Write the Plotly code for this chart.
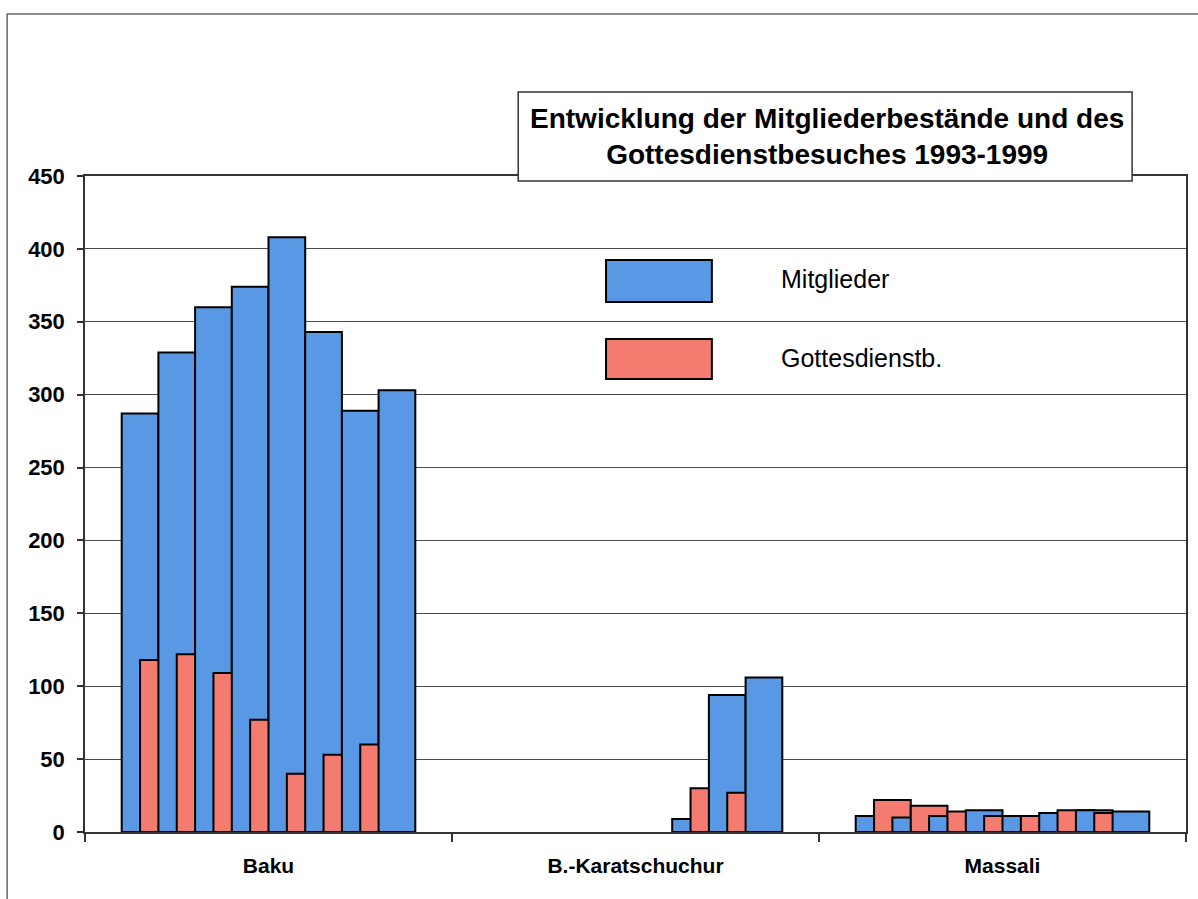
import plotly.graph_objects as go

# ---------------- data ----------------
categories = ["Baku", "B.-Karatschuchur", "Massali"]
years = ["1", "2", "3", "4", "5", "6", "7", "8"]

mitglieder_baku = [287, 329, 360, 374, 408, 343, 289, 303]
mitglieder_karat = [None, None, None, None, None, 9, 94, 106]
mitglieder_massali = [11, 10, 11, 15, 11, 13, 15, 14]

gottesdienst_baku = [118, 122, 109, 77, 40, 53, 60]
gottesdienst_karat = [None, None, None, None, None, 30, 27]
gottesdienst_massali = [22, 18, 14, 11, 11, 15, 13]

y_ticks = [0, 50, 100, 150, 200, 250, 300, 350, 400, 450]

title_text = "Entwicklung der Mitgliederbestände und des<br>Gottesdienstbesuches 1993-1999"
legend_names = ["Mitglieder", "Gottesdienstb."]

# ---------------- style ----------------
BLUE = "#5898E5"
RED = "#F47B70"
FONT = "Liberation Sans, Arial, sans-serif"
BAR_W = 0.1
STEP = 0.05
START = -0.4

fig = go.Figure()
n_blue = len(mitglieder_baku)
n_red = len(gottesdienst_baku)
k = 0
for i in range(n_blue):
    fig.add_trace(go.Bar(
        x=categories,
        y=[mitglieder_baku[i], mitglieder_karat[i], mitglieder_massali[i]],
        offset=START + k * STEP, width=BAR_W,
        marker=dict(color=BLUE, line=dict(color="black", width=2)),
        name=legend_names[0], showlegend=False,
    ))
    k += 1
    if i < n_red:
        fig.add_trace(go.Bar(
            x=categories,
            y=[gottesdienst_baku[i], gottesdienst_karat[i], gottesdienst_massali[i]],
            offset=START + k * STEP, width=BAR_W,
            marker=dict(color=RED, line=dict(color="black", width=2)),
            name=legend_names[1], showlegend=False,
        ))
        k += 1

# plot area in pixels: left 85, right 1188, top 176, bottom 832
L, R, T, B = 85, 1188, 176, 832
W, H = R - L, B - T


def px(x):
    return (x - L) / W


def py(y):
    return (B - y) / H


shapes = [
    # outer frame
    dict(type="rect", xref="paper", yref="paper",
         x0=px(7), x1=px(1215), y0=py(915), y1=py(14),
         line=dict(color="#6a6a6a", width=1.5), fillcolor="rgba(0,0,0,0)", layer="below"),
    # title box
    dict(type="rect", xref="paper", yref="paper",
         x0=px(519), x1=px(1134), y0=py(181), y1=py(92),
         line=dict(color="#333333", width=1.5), fillcolor="white", layer="above"),
    # legend swatches
    dict(type="rect", xref="paper", yref="paper",
         x0=px(607), x1=px(713), y0=py(302), y1=py(260),
         line=dict(color="black", width=2), fillcolor=BLUE, layer="above"),
    dict(type="rect", xref="paper", yref="paper",
         x0=px(607), x1=px(713), y0=py(379), y1=py(339),
         line=dict(color="black", width=2), fillcolor=RED, layer="above"),
]

annotations = [
    dict(xref="paper", yref="paper", x=px(828), y=py(137), xanchor="center", yanchor="middle",
         text="<b>" + title_text.replace("<br>", "</b><br><b>") + "</b>", showarrow=False,
         font=dict(family=FONT, size=28, color="black"), align="center"),
    dict(xref="paper", yref="paper", x=px(780), y=py(279), xanchor="left", yanchor="middle",
         text=legend_names[0], showarrow=False, font=dict(family=FONT, size=25, color="black")),
    dict(xref="paper", yref="paper", x=px(780), y=py(358), xanchor="left", yanchor="middle",
         text=legend_names[1], showarrow=False, font=dict(family=FONT, size=25, color="black")),
]

fig.update_layout(
    width=1198, height=899,
    margin=dict(l=L, r=1198 - R, t=T, b=899 - B),
    paper_bgcolor="white", plot_bgcolor="white",
    barmode="overlay",
    showlegend=False,
    shapes=shapes,
    annotations=annotations,
    font=dict(family=FONT, color="black"),
    xaxis=dict(
        type="category", range=[-0.5, 2.5],
        showgrid=False, showline=True, linecolor="#333333", linewidth=1.5,
        mirror=True, ticks="outside", tickson="boundaries", ticklen=8,
        tickcolor="#333333", tickwidth=1.5,
        tickfont=dict(family=FONT, size=21, color="black", weight="bold"),
        ticklabelstandoff=14,
    ),
    yaxis=dict(
        range=[0, 450], tickvals=y_ticks,
        showgrid=True, gridcolor="#4a4a4a", gridwidth=1.2,
        showline=True, linecolor="#333333", linewidth=1.5, mirror=True,
        ticks="outside", ticklen=6, tickcolor="#333333", tickwidth=1.5,
        tickfont=dict(family=FONT, size=22, color="black", weight="bold"),
        ticklabelstandoff=8, zeroline=False,
    ),
)

fig.write_html("out.html", config={"displayModeBar": False},
               post_script="document.body.style.margin='0';document.body.style.overflow='hidden';")
